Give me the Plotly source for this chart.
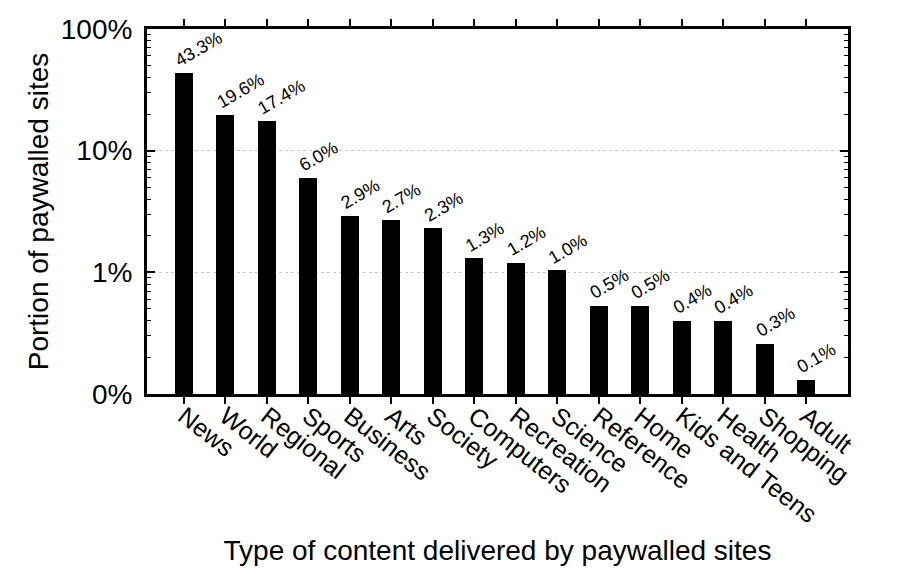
import numpy as np
import plotly.graph_objects as go

categories = ["News", "World", "Regional", "Sports", "Business", "Arts", "Society",
              "Computers", "Recreation", "Science", "Reference", "Home",
              "Kids and Teens", "Health", "Shopping", "Adult"]
values = [43.3, 19.6, 17.4, 6.0, 2.9, 2.7, 2.3, 1.3, 1.2, 1.04, 0.53, 0.53,
          0.4, 0.4, 0.26, 0.13]
labels = ["43.3%", "19.6%", "17.4%", "6.0%", "2.9%", "2.7%", "2.3%", "1.3%",
          "1.2%", "1.0%", "0.5%", "0.5%", "0.4%", "0.4%", "0.3%", "0.1%"]
ytick_vals = [0.1, 1, 10, 100]
ytick_text = ["0%", "1%", "10%", "100%"]

FONT = "Liberation Sans, Arial, Helvetica, sans-serif"
x_idx = list(range(len(categories)))

fig = go.Figure()
fig.add_trace(go.Bar(x=x_idx, y=values, width=0.43,
                     marker=dict(color="black", line=dict(width=0)),
                     showlegend=False))

for i, (v, t) in enumerate(zip(values, labels)):
    fig.add_annotation(x=i - 0.36, y=np.log10(v), text=t, showarrow=False,
                       textangle=-30, xanchor="left", yanchor="bottom",
                       yshift=0, font=dict(family=FONT, size=18, color="black"))

minor_vals = [m * 10.0 ** d for d in range(-1, 2) for m in range(2, 10)]

fig.update_layout(
    width=900, height=578,
    margin=dict(l=147, r=52, t=29, b=184),
    paper_bgcolor="white", plot_bgcolor="white",
    font=dict(family=FONT, color="black"),
    bargap=0,
)
fig.update_xaxes(
    tickvals=x_idx, ticktext=categories, tickangle=38,
    range=[-0.89, 16.01],
    ticks="outside", ticklen=7, tickwidth=1.5, tickcolor="black",
    showline=True, linewidth=3, linecolor="black", mirror="ticks",
    showgrid=False, tickfont=dict(family=FONT, size=25, color="black"),
    ticklabelstandoff=-12,
    title=dict(text="Type of content delivered by paywalled sites",
               font=dict(family=FONT, size=28, color="black"), standoff=14),
)
fig.update_yaxes(
    type="log", range=[-1, 2],
    tickvals=ytick_vals, ticktext=ytick_text,
    ticks="inside", ticklen=8, tickwidth=1.5, tickcolor="black",
    minor=dict(tickvals=minor_vals, ticks="inside", ticklen=4, tickwidth=1,
               tickcolor="black", showgrid=False),
    showline=True, linewidth=3, linecolor="black", mirror="ticks",
    showgrid=True, gridcolor="#c8c8c8", griddash="dot", gridwidth=1,
    tickfont=dict(family=FONT, size=28, color="black"),
    ticklabelstandoff=6,
    title=dict(text="Portion of paywalled sites",
               font=dict(family=FONT, size=28, color="black"), standoff=4),
)

fig.write_html("out.html")
